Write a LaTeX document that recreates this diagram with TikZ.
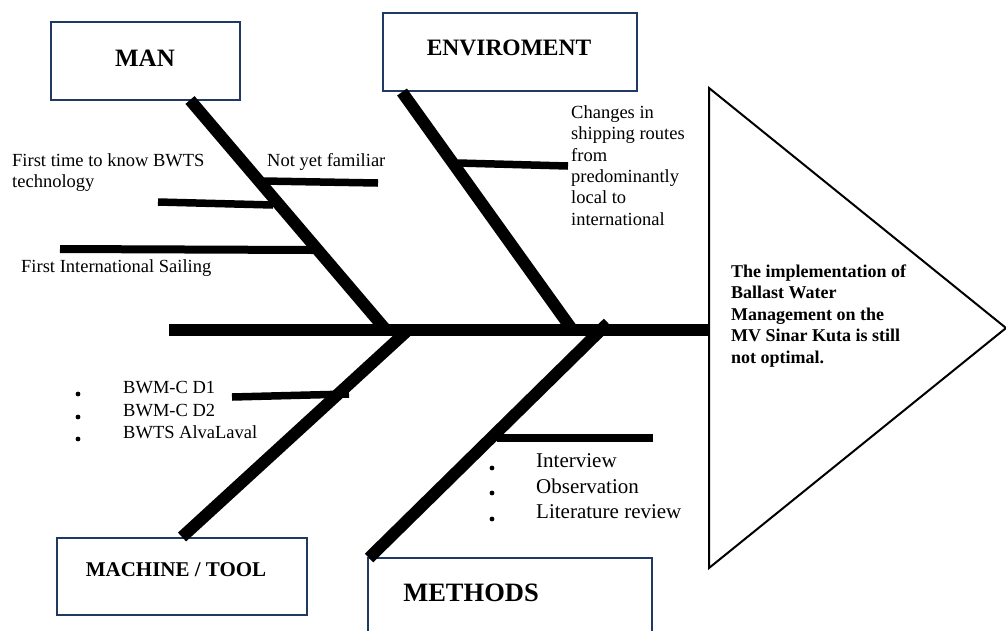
\documentclass[tikz,border=0pt]{standalone}
\usepackage{fontspec}
\setmainfont{Liberation Serif}
\definecolor{boxblue}{RGB}{31,56,100}
\begin{document}
\begin{tikzpicture}[x=1pt,y=-1pt,
  catbox/.style={draw=boxblue, line width=2pt, inner sep=0pt, fill=white},
  cattitle/.style={font=\bfseries\fontsize{#1}{#1}\selectfont, inner sep=0pt},
  bone/.style={line width=12pt},
  twig/.style={line width=7.5pt},
  txt/.style={font=\fontsize{18.5}{21.5}\selectfont, inner sep=0pt, align=left, anchor=west},
  bwmtxt/.style={font=\fontsize{18.5}{22.5}\selectfont, inner sep=0pt, align=left, anchor=west},
  methtxt/.style={font=\fontsize{21}{25.5}\selectfont, inner sep=0pt, align=left, anchor=west},
  efftxt/.style={font=\bfseries\fontsize{18}{21.5}\selectfont, inner sep=0pt, align=left, anchor=west},
  bulletdot/.style={fill=black}
]
\useasboundingbox (0,0) rectangle (1006,630);
\clip (0,0) rectangle (1006,630);

% category boxes
\node[catbox, minimum width=189pt, minimum height=78pt] (manbox) at (145.5,61) {};
\node[catbox, minimum width=254pt, minimum height=78pt] (envbox) at (510,52) {};
\node[catbox, minimum width=250pt, minimum height=77pt] (machbox) at (182,576.5) {};
\node[catbox, minimum width=284pt, minimum height=100pt] (methbox) at (510,608) {};

\node[cattitle=25] (mantitle) at (145,58) {MAN};
\node[cattitle=23.5] (envtitle) at (509,48) {ENVIROMENT};
\node[cattitle=21] (machtitle) at (176,570) {MACHINE / TOOL};
\node[cattitle=26.5] (methtitle) at (471,593) {METHODS};

% effect triangle
\coordinate (ttop) at (709,88);
\coordinate (tapex) at (1006,328);
\coordinate (tbot) at (709,568);
\draw[line width=2pt, line join=miter] (ttop) -- (tapex) -- (tbot) -- cycle;
\node[efftxt] (effect) at (731,316) {The implementation of\\Ballast Water\\Management on the\\MV Sinar Kuta is still\\not optimal.};

% spine
\coordinate (spl) at (169,329.5);
\coordinate (spr) at (708,329.5);
\draw[bone] (spl) -- (spr);

% main bones
\coordinate (mantop) at (190,100);
\coordinate (manend) at (386,330);
\coordinate (envtop) at (402,92);
\coordinate (envend) at (571,328);
\coordinate (machtop) at (407,331);
\coordinate (machend) at (182,537);
\coordinate (methtop) at (608,323);
\coordinate (methend) at (369,558);
\draw[bone] (mantop) -- (manend);
\draw[bone] (envtop) -- (envend);
\draw[bone] (machtop) -- (machend);
\draw[bone] (methtop) -- (methend);

% sub bones
\coordinate (a1) at (263,181); \coordinate (a2) at (378,183);
\coordinate (b1) at (158,202); \coordinate (b2) at (273,205);
\coordinate (c1) at (60,249);  \coordinate (c2) at (313,250);
\coordinate (d1) at (458,163); \coordinate (d2) at (568,166);
\coordinate (e1) at (232,397); \coordinate (e2) at (349,394);
\coordinate (f1) at (497,438); \coordinate (f2) at (653,438);
\draw[twig] (a1) -- (a2);
\draw[twig] (b1) -- (b2);
\draw[twig, line width=8pt] (c1) -- (c2);
\draw[twig] (d1) -- (d2);
\draw[twig] (e1) -- (e2);
\draw[twig, line width=8pt] (f1) -- (f2);

% cause texts
\node[txt] (firsttime) at (12,172.5) {First time to know BWTS\\technology};
\node[txt] (notyet) at (267,162) {Not yet familiar};
\node[txt] (firstintl) at (21,268) {First International Sailing};
\node[txt, font=\fontsize{18.5}{21.4}\selectfont] (changes) at (571,165.5) {Changes in\\shipping routes\\from\\predominantly\\local to\\international};
\node[bwmtxt] (bwm) at (123,410.5) {BWM-C D1\\BWM-C D2\\BWTS AlvaLaval};
\node[methtxt] (methlist) at (536,486.5) {Interview\\Observation\\Literature review};

% bullets
\fill[bulletdot] (78,394) circle (2.4pt);
\fill[bulletdot] (78,417) circle (2.4pt);
\fill[bulletdot] (78,439) circle (2.4pt);
\fill[bulletdot] (492,468) circle (2.4pt);
\fill[bulletdot] (492,493) circle (2.4pt);
\fill[bulletdot] (492,519) circle (2.4pt);
\end{tikzpicture}
\end{document}
